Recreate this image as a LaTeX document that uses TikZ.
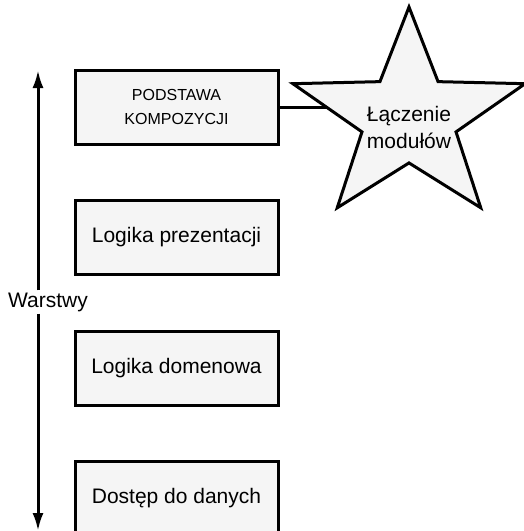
\documentclass[tikz,border=0pt]{standalone}
\usepackage{fontspec}
\setmainfont{Liberation Sans}
\usepackage{tikz}
\usetikzlibrary{arrows.meta, shapes.geometric, backgrounds}
\usepackage{xcolor}
\definecolor{boxgray}{RGB}{245, 245, 245}

\begin{document}
\begin{tikzpicture}[
    x=1pt, y=-1pt,
    warstwa/.style={draw, fill=boxgray, line width=3pt, minimum width=203pt,
                    minimum height=74pt, inner sep=0pt, align=center,
                    font=\fontsize{21}{26}\selectfont},
    gwiazda/.style={draw, fill=boxgray, line width=3pt, star, star points=5,
                    star point ratio=2.47, minimum size=222pt, inner sep=0pt},
    arrow/.style={-{Latex[length=18pt, width=11pt]}, line width=3pt},
  ]
    \useasboundingbox (0,0) rectangle (524,531);

    % Layers
    \node[warstwa, font=\fontsize{16}{24}\selectfont] (podstawa) at (176.5,107)
      {PODSTAWA\\KOMPOZYCJI};
    \node[warstwa] (prezentacja) at (176.5,237.5) {Logika prezentacji};
    \node[warstwa] (domena) at (176.5,368) {Logika domenowa};
    \node[warstwa] (dane) at (176.5,498.5) {Dostęp do danych};

    % Star
    \node[gwiazda, xscale=1.1] (laczenie) at (409,118) {};
    \node[font=\fontsize{21}{27}\selectfont, align=center] (laczenie-txt)
      at ([yshift=-9pt]laczenie.center) {Łączenie\\modułów};
    \begin{scope}[on background layer]
      \draw[line width=3pt] (podstawa.east) -- (podstawa.east -| laczenie.center);
    \end{scope}

    % Layers arrow
    \coordinate (gora) at (38,70);
    \coordinate (dol) at (38,531);
    \node[font=\fontsize{21}{26}\selectfont, inner sep=2pt] (warstwy) at (48,302) {Warstwy};
    \draw[arrow] (warstwy.north -| gora) -- (gora);
    \draw[arrow] (warstwy.south -| dol) -- (dol);
  \end{tikzpicture}
\end{document}
